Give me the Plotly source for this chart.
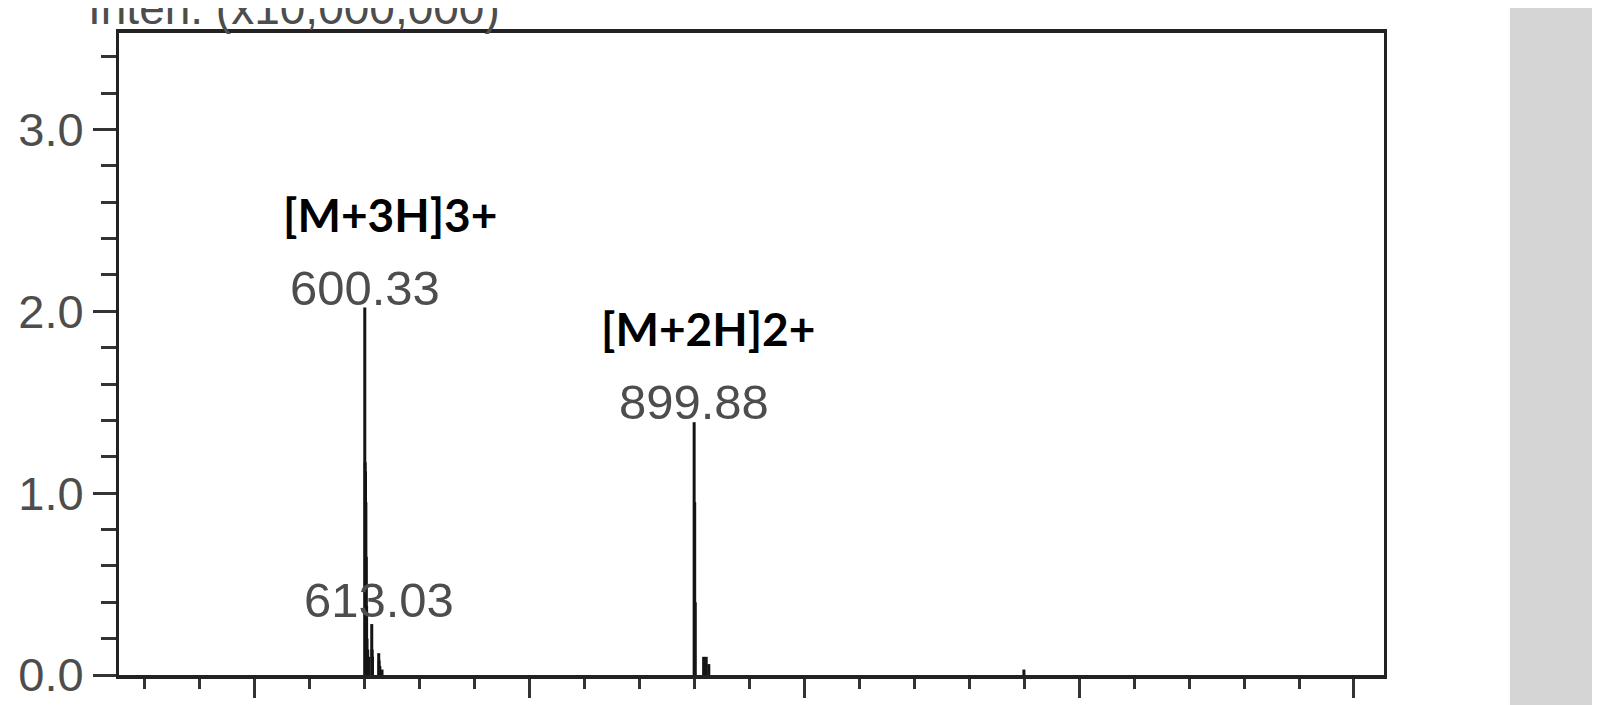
import plotly.graph_objects as go

# m/z and intensity (x10,000,000)
mz = [600.33, 600.67, 601.00, 601.34, 601.67, 602.00, 602.34, 603.0, 604.0, 606.67, 607.00, 607.34,
      613.03, 613.36, 614.0, 616.0, 899.88, 900.38, 900.88, 908.5, 910.87, 913.2, 1199.8]
inten = [2.02, 1.17, 1.12, 0.95, 0.65, 0.38, 0.2, 0.14, 0.1, 0.28, 0.14, 0.10,
         0.12, 0.08, 0.05, 0.03, 1.39, 0.95, 0.40, 0.10, 0.10, 0.06, 0.03]

# peak labels
lab_mz = [600.33, 899.88, 613.03]
lab_y = [2.02, 1.39, 0.3]
lab_txt = ["600.33", "899.88", "613.03"]

# ion annotations
ion_txt = ["[M+3H]3+", "[M+2H]2+"]
ion_mz = [600.33, 899.88]
ion_y = [2.02, 1.39]

# sticks: each peak drawn as a vertical line from 0 to its intensity
xs, ys = [], []
for m, i in zip(mz, inten):
    xs += [m, m, None]
    ys += [0, i, None]

fig = go.Figure()
fig.add_trace(go.Scatter(x=xs, y=ys, mode="lines",
                         line=dict(color="#141414", width=3),
                         showlegend=False, hoverinfo="skip"))

for m, y, t in zip(lab_mz, lab_y, lab_txt):
    fig.add_annotation(x=m, y=y, text=t, showarrow=False, yanchor="bottom",
                       yshift=-9, font=dict(family="Liberation Sans", size=49, color="#4d4d4d"))

# label offsets (px) for the ion names
ion_shift = [(25, 64), (14, 64)]
for m, y, t, (dx, dy) in zip(ion_mz, ion_y, ion_txt, ion_shift):
    fig.add_annotation(x=m, y=y, text="<b>%s</b>" % t, showarrow=False, yanchor="bottom",
                       xshift=dx, yshift=dy, font=dict(family="Lato", size=46, color="black"))

# axis title, cut at the top as in the original screenshot
fig.add_annotation(x=-0.026, y=1, xref="paper", yref="paper", xanchor="left", yanchor="bottom",
                   text="Inten. (x10,000,000)", showarrow=False, yshift=-3,
                   font=dict(family="Liberation Sans", size=46, color="#4d4d4d"))

# grey panel on the right
fig.add_shape(type="rect", xref="paper", yref="paper", x0=1.0995, x1=1.2, y0=-0.1, y1=1.1,
              fillcolor="#d5d5d5", line_width=0, layer="below")

fig.update_layout(
    width=1600, height=705,
    margin=dict(l=111, r=224, t=25, b=38),
    plot_bgcolor="white", paper_bgcolor="white",
    showlegend=False,
)
fig.update_xaxes(range=[376.8, 1527.3], showgrid=False, zeroline=False, automargin=False,
                 showline=True, linecolor="#222", linewidth=4, mirror=True,
                 ticks="outside", tick0=0, dtick=250, ticklen=19, tickwidth=2.5, tickcolor="#333",
                 minor=dict(dtick=50, ticklen=10, tickwidth=2.5, tickcolor="#333", ticks="outside"),
                 showticklabels=False)
fig.update_yaxes(range=[0, 3.53], showgrid=False, zeroline=False, automargin=False,
                 showline=True, linecolor="#222", linewidth=3, mirror=True,
                 ticks="outside", dtick=1, tickformat=".1f", ticklen=23, tickwidth=2.5, tickcolor="#333",
                 minor=dict(dtick=0.2, ticklen=15, tickwidth=2.5, tickcolor="#333", ticks="outside"),
                 tickfont=dict(family="Liberation Sans", size=47, color="#4d4d4d"))

fig.write_html("out.html")
